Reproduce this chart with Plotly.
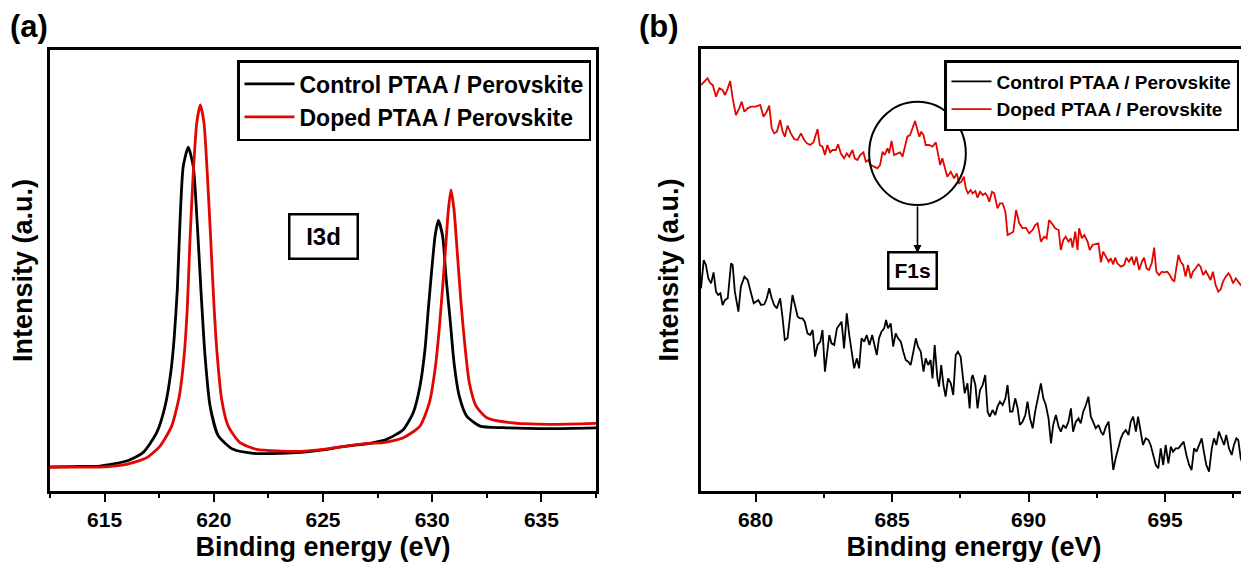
import plotly.graph_objects as go

# ---------------- Panel (a): I3d ----------------
ctrl_a_ev = [612.5, 613.5, 614.79, 616.01, 616.77, 617.39, 617.77, 618.03, 618.18, 618.33,
             618.45, 618.60, 618.83, 619.06, 619.24, 619.41, 619.60, 619.83, 620.21, 620.89,
             621.81, 623.03, 624.0, 625.0, 626.0, 627.15, 627.92, 628.68, 629.13, 629.44,
             629.67, 629.82, 629.98, 630.13, 630.28, 630.48, 630.63, 630.82, 631.00, 631.24,
             631.58, 632.19, 633.26, 635.39, 637.5]
ctrl_a_int = [24.2, 24.5, 25.0, 30.0, 38.7, 58.7, 85.0, 118.7, 151.7, 201.7,
              268.7, 325.0, 344.4, 325.0, 268.7, 201.7, 135.0, 85.0, 55.0, 41.7,
              37.7, 37.7, 38.7, 41.2, 44.7, 47.7, 51.7, 61.7, 78.4, 105.0,
              141.7, 181.7, 221.7, 255.0, 271.0, 255.0, 215.0, 171.7, 128.4, 95.0,
              75.0, 65.0, 63.4, 62.4, 63.2]

dop_a_ev = [612.5, 613.5, 614.79, 616.01, 616.93, 617.54, 618.07, 618.42, 618.64, 618.79,
            618.91, 619.06, 619.22, 619.38, 619.55, 619.70, 619.86, 620.01, 620.16, 620.36,
            620.66, 621.20, 621.96, 623.03, 624.0, 625.0, 626.0, 627.0, 627.76, 628.68,
            629.44, 629.87, 630.13, 630.32, 630.48, 630.63, 630.74, 630.86, 631.00, 631.15,
            631.32, 631.50, 631.70, 632.01, 632.50, 633.56, 635.39, 637.5]
dop_a_int = [23.7, 23.9, 24.0, 26.7, 33.4, 45.0, 65.0, 95.0, 135.0, 185.0,
             251.7, 318.7, 368.7, 386.7, 368.7, 318.7, 251.7, 185.0, 135.0, 91.7,
             65.0, 48.4, 41.7, 40.0, 39.7, 41.7, 44.7, 47.7, 48.4, 53.4,
             65.0, 88.4, 121.7, 161.7, 205.0, 248.4, 281.7, 301.7, 281.7, 238.4,
             188.4, 145.0, 108.4, 85.0, 73.4, 68.4, 66.7, 67.7]

# ---------------- Panel (b): F1s ----------------
dop_b_ev = [678.00, 678.12, 678.24, 678.34, 678.43, 678.55, 678.67, 678.79, 678.88, 678.98,
            679.07, 679.16, 679.28, 679.40, 679.49, 679.59, 679.71, 679.83, 680.01, 680.17,
            680.29, 680.41, 680.50, 680.59, 680.68, 680.78, 680.90, 680.99, 681.07, 681.17,
            681.29, 681.41, 681.54, 681.66, 681.78, 681.88, 682.00, 682.12, 682.27, 682.35,
            682.45, 682.54, 682.63, 682.73, 682.82, 682.94, 683.02, 683.12, 683.24, 683.34,
            683.43, 683.55, 683.63, 683.73, 683.83, 683.95, 684.04, 684.12, 684.22, 684.34,
            684.46, 684.56, 684.65, 684.73, 684.83, 684.89, 684.98, 685.07, 685.20, 685.29,
            685.38, 685.46, 685.56, 685.66, 685.74, 685.84, 685.93, 686.00, 686.07, 686.15,
            686.23, 686.35, 686.48, 686.60, 686.68, 686.76, 686.84, 686.93, 687.02, 687.15,
            687.27, 687.37, 687.45, 687.54, 687.63, 687.70, 687.78, 687.88,
            687.95, 688.05, 688.13, 688.22, 688.32, 688.41, 688.50, 688.56, 688.66, 688.74,
            688.86, 688.95, 689.05, 689.15, 689.23, 689.35, 689.44, 689.54, 689.66, 689.78,
            689.90, 690.02, 690.15, 690.24, 690.33, 690.45, 690.57, 690.66, 690.75, 690.85,
            690.97, 691.10, 691.18, 691.27, 691.36, 691.46, 691.55, 691.61, 691.71, 691.79,
            691.85, 691.95, 692.04, 692.16, 692.24, 692.34, 692.46, 692.56, 692.65, 692.73,
            692.83, 692.93, 693.01, 693.10, 693.17, 693.25, 693.38, 693.50, 693.58, 693.68,
            693.78, 693.86, 693.95, 694.05, 694.15, 694.23, 694.32, 694.41, 694.51, 694.60,
            694.68, 694.78, 694.88, 694.96, 695.08, 695.17, 695.27, 695.34, 695.41, 695.49,
            695.57, 695.66, 695.75, 695.84, 695.94, 696.02, 696.12, 696.22, 696.30, 696.39,
            696.49, 696.58, 696.67, 696.75, 696.85, 696.95, 697.04, 697.12, 697.22, 697.32,
            697.40, 697.49, 697.59, 697.68, 697.77, 697.85, 697.95, 698.00]
dop_b_int = [1218, 1228, 1238, 1223, 1218, 1183, 1208, 1203, 1188, 1208,
             1230, 1178, 1128, 1148, 1168, 1138, 1148, 1153, 1153, 1158,
             1123, 1138, 1156, 1088, 1073, 1078, 1113, 1078, 1063, 1096,
             1073, 1056, 1053, 1073, 1053, 1043, 1038, 1046, 1086, 1038,
             1033, 1008, 1038, 1016, 1023, 1023, 1040, 1013, 998, 1013,
             1003, 1023, 998, 993, 1008, 1016, 988, 993, 978, 973,
             968, 978, 1018, 1008, 1028, 1013, 1050, 1008, 1013, 1016,
             1003, 1033, 1063, 1068, 1088, 1110, 1083, 1063, 1078, 1068,
             1038, 1038, 1033, 1046, 1013, 978, 998, 968, 943, 958,
             938, 953, 923, 928, 943, 908, 893, 903,
             893, 900, 880, 898, 888, 893, 883, 868, 898, 893,
             848, 863, 863, 838, 768, 773, 778, 843, 803, 788,
             790, 773, 783, 798, 803, 748, 763, 758, 813, 803,
             788, 783, 723, 753, 763, 748, 758, 730, 778, 723,
             788, 758, 768, 748, 723, 738, 740, 743, 686, 718,
             703, 688, 698, 680, 700, 683, 673, 678, 700, 688,
             703, 678, 703, 663, 688, 700, 668, 663, 683, 730,
             658, 648, 658, 656, 658, 648, 633, 630, 668, 708,
             688, 678, 643, 678, 638, 658, 668, 680, 673, 648,
             660, 648, 633, 658, 618, 598, 606, 628, 643, 653,
             643, 623, 638, 628, 618, 613, 638, 638]

ctrl_b_ev = [678.00, 678.10, 678.18, 678.27, 678.37, 678.46, 678.55, 678.63, 678.71, 678.79,
             678.88, 678.98, 679.10, 679.16, 679.24, 679.37, 679.46, 679.59, 679.71, 679.83,
             679.93, 680.01, 680.10, 680.20, 680.32, 680.41, 680.50, 680.59, 680.68, 680.78,
             680.90, 680.99, 681.07, 681.17, 681.27, 681.35, 681.44, 681.54, 681.63, 681.72,
             681.80, 681.90, 682.00, 682.09, 682.18, 682.27, 682.37, 682.45, 682.54, 682.61,
             682.70, 682.78, 682.88, 682.98, 683.06, 683.15, 683.24, 683.34, 683.43, 683.51,
             683.61, 683.71, 683.79, 683.88, 683.98, 684.07, 684.17, 684.27, 684.34, 684.44,
             684.52, 684.61, 684.71, 684.78, 684.85, 684.95, 685.04, 685.13, 685.22, 685.32,
             685.41, 685.50, 685.59, 685.68, 685.78, 685.87, 685.95, 686.05, 686.15, 686.23,
             686.32, 686.41, 686.48, 686.56, 686.66, 686.72, 686.80, 686.88, 686.96, 687.05,
             687.15, 687.24, 687.33, 687.41, 687.51, 687.57, 687.66, 687.76, 687.84, 687.91,
             687.95, 688.05, 688.13, 688.22, 688.32, 688.41, 688.50, 688.58, 688.68, 688.78,
             688.86, 688.95, 689.05, 689.15, 689.23, 689.32, 689.41, 689.51, 689.60, 689.68,
             689.78, 689.88, 689.96, 690.05, 690.15, 690.24, 690.33, 690.45, 690.54, 690.63,
             690.73, 690.82, 690.90, 691.00, 691.10, 691.18, 691.27, 691.36, 691.46, 691.55,
             691.63, 691.73, 691.83, 691.91, 692.00, 692.10, 692.19, 692.28, 692.36, 692.46,
             692.56, 692.65, 692.73, 692.83, 692.93, 693.01, 693.10, 693.19, 693.29, 693.38,
             693.46, 693.56, 693.66, 693.74, 693.83, 693.93, 694.01, 694.11, 694.19, 694.29,
             694.39, 694.47, 694.56, 694.66, 694.75, 694.84, 694.93, 695.02, 695.12, 695.21,
             695.29, 695.39, 695.49, 695.58, 695.68, 695.78, 695.88, 695.97, 696.06, 696.15,
             696.24, 696.34, 696.43, 696.51, 696.61, 696.71, 696.79, 696.88, 696.97, 697.07,
             697.16, 697.24, 697.34, 697.44, 697.52, 697.61, 697.68, 697.77, 697.85, 697.93,
             698.00]
ctrl_b_int = [608, 693, 678, 638, 623, 656, 598, 588, 593, 558,
              573, 578, 683, 678, 598, 538, 613, 643, 633, 598,
              563, 568, 573, 558, 560, 578, 608, 578, 558, 548,
              578, 518, 453, 458, 538, 588, 558, 523, 518, 518,
              508, 473, 468, 483, 403, 438, 448, 483, 358, 413,
              468, 443, 438, 488, 498, 508, 428, 533, 468, 423,
              368, 398, 368, 458, 448, 468, 438, 468, 443, 408,
              458, 478, 488, 513, 488, 503, 433, 473, 458, 448,
              418, 393, 388, 378, 418, 458, 433, 418, 358, 398,
              378, 393, 338, 438, 338, 313, 378, 318, 283, 338,
              323, 288, 408, 418, 403, 353, 293, 323, 248, 338,
              348, 318, 248, 303, 318, 348, 238, 223, 243, 228,
              253, 268, 258, 278, 318, 238, 238, 278, 248, 198,
              208, 228, 268, 218, 188, 238, 278, 323, 278, 258,
              218, 143, 198, 228, 193, 178, 198, 188, 208, 248,
              178, 208, 218, 203, 238, 258, 283, 223, 208, 188,
              198, 178, 168, 193, 208, 148, 63, 98, 133, 158,
              173, 183, 168, 208, 223, 178, 223, 168, 138, 158,
              153, 138, 113, 78, 68, 128, 78, 138, 83, 133,
              118, 128, 128, 138, 148, 108, 78, 63, 128, 118,
              138, 158, 113, 78, 58, 128, 158, 138, 178, 158,
              138, 168, 128, 108, 138, 158, 153, 98, 78, 73,
              83]

series_names = ["Control PTAA / Perovskite", "Doped PTAA / Perovskite"]
xticks_a = [615, 620, 625, 630, 635]
xticks_b = [680, 685, 690, 695]

FONT = "Liberation Sans, Arial, sans-serif"
W, H = 1249, 569
OFF = 8  # the page body margin shifts the figure by this many pixels
RED = "#e10600"


def px_x(p):
    return (p - OFF) / W


def px_y(p):
    return 1 - (p - OFF) / H


fig = go.Figure()
fig.add_trace(go.Scatter(x=ctrl_a_ev, y=ctrl_a_int, name=series_names[0], mode="lines",
                         line=dict(color="black", width=2.8, shape="spline", smoothing=0.6),
                         xaxis="x", yaxis="y", legend="legend"))
fig.add_trace(go.Scatter(x=dop_a_ev, y=dop_a_int, name=series_names[1], mode="lines",
                         line=dict(color=RED, width=2.8, shape="spline", smoothing=0.6),
                         xaxis="x", yaxis="y", legend="legend"))
fig.add_trace(go.Scatter(x=ctrl_b_ev, y=ctrl_b_int, name=series_names[0], mode="lines",
                         line=dict(color="black", width=1.8),
                         xaxis="x2", yaxis="y2", legend="legend2"))
fig.add_trace(go.Scatter(x=dop_b_ev, y=dop_b_int, name=series_names[1], mode="lines",
                         line=dict(color=RED, width=1.8),
                         xaxis="x2", yaxis="y2", legend="legend2"))

xcommon = dict(showline=True, linecolor="black", linewidth=2.5, mirror=True,
               ticks="outside", ticklen=8, tickwidth=2, tickcolor="black",
               minor=dict(ticks="outside", ticklen=4, tickwidth=2, tickcolor="black", dtick=2.5, tick0=0),
               showgrid=False, zeroline=False, automargin=False,
               tickfont=dict(family=FONT, size=21, color="black", weight="bold"),
               title=dict(text="Binding energy (eV)", standoff=8,
                          font=dict(family=FONT, size=27, color="black", weight="bold")))
ycommon = dict(showline=True, linecolor="black", linewidth=2.5, mirror=True,
               ticks="", showticklabels=False, showgrid=False, zeroline=False, automargin=False,
               title=dict(text="Intensity (a.u.)", standoff=12,
                          font=dict(family=FONT, size=27, color="black", weight="bold")))

fig.update_layout(
    width=W, height=H, margin=dict(l=0, r=0, t=0, b=0),
    paper_bgcolor="white", plot_bgcolor="white",
    font=dict(family=FONT, color="black"),
    xaxis=dict(xcommon, domain=[px_x(50), px_x(596)], range=[612.5, 637.5],
               tickvals=xticks_a, anchor="y"),
    yaxis=dict(ycommon, domain=[px_y(491), px_y(50)], range=[0, 441.7], anchor="x"),
    xaxis2=dict(xcommon, domain=[px_x(701), px_x(1247)], range=[678, 698],
                tickvals=xticks_b, anchor="y2"),
    yaxis2=dict(ycommon, domain=[px_y(491), px_y(49)], range=[0, 1326], anchor="x2"),
    legend=dict(x=px_x(591), y=px_y(60), xanchor="right", yanchor="top",
                bordercolor="black", borderwidth=2.5, bgcolor="white",
                font=dict(family=FONT, size=23, color="black", weight="bold"),
                itemwidth=50, tracegroupgap=0),
    legend2=dict(x=px_x(1239), y=px_y(60), xanchor="right", yanchor="top",
                 bordercolor="black", borderwidth=2.5, bgcolor="white",
                 font=dict(family=FONT, size=19, color="black", weight="bold"),
                 itemwidth=40, tracegroupgap=0),
    showlegend=True,
)

# panel labels (kept just inside the top edge of the figure)
fig.add_annotation(text="(a)", xref="paper", yref="paper", x=px_x(9), y=1.0,
                   xanchor="left", yanchor="top", showarrow=False, borderpad=0,
                   font=dict(family=FONT, size=31, color="black", weight="bold"))
fig.add_annotation(text="(b)", xref="paper", yref="paper", x=px_x(638), y=1.0,
                   xanchor="left", yanchor="top", showarrow=False, borderpad=0,
                   font=dict(family=FONT, size=31, color="black", weight="bold"))

# I3d label box
fig.add_annotation(text="I3d", xref="x", yref="y", x=625.0, y=254.7, showarrow=False,
                   bordercolor="black", borderwidth=2.5, borderpad=6, width=54, height=30,
                   bgcolor="white",
                   font=dict(family=FONT, size=24, color="black", weight="bold"))

# F1s circle, arrow and label
fig.add_shape(type="circle", xref="x2", yref="y2", x0=684.16, x1=687.70, y0=858, y1=1168,
              line=dict(color="black", width=2))
fig.add_annotation(text="", xref="x2", yref="y2", x=685.93, y=714,
                   axref="x2", ayref="y2", ax=685.93, ay=858,
                   showarrow=True, arrowhead=2, arrowsize=1, arrowwidth=1.6, arrowcolor="black")
fig.add_annotation(text="F1s", xref="x2", yref="y2", x=685.74, y=663, showarrow=False,
                   bordercolor="black", borderwidth=2.5, borderpad=4, width=38, height=26,
                   bgcolor="white",
                   font=dict(family=FONT, size=21, color="black", weight="bold"))

fig.write_html("out.html")
